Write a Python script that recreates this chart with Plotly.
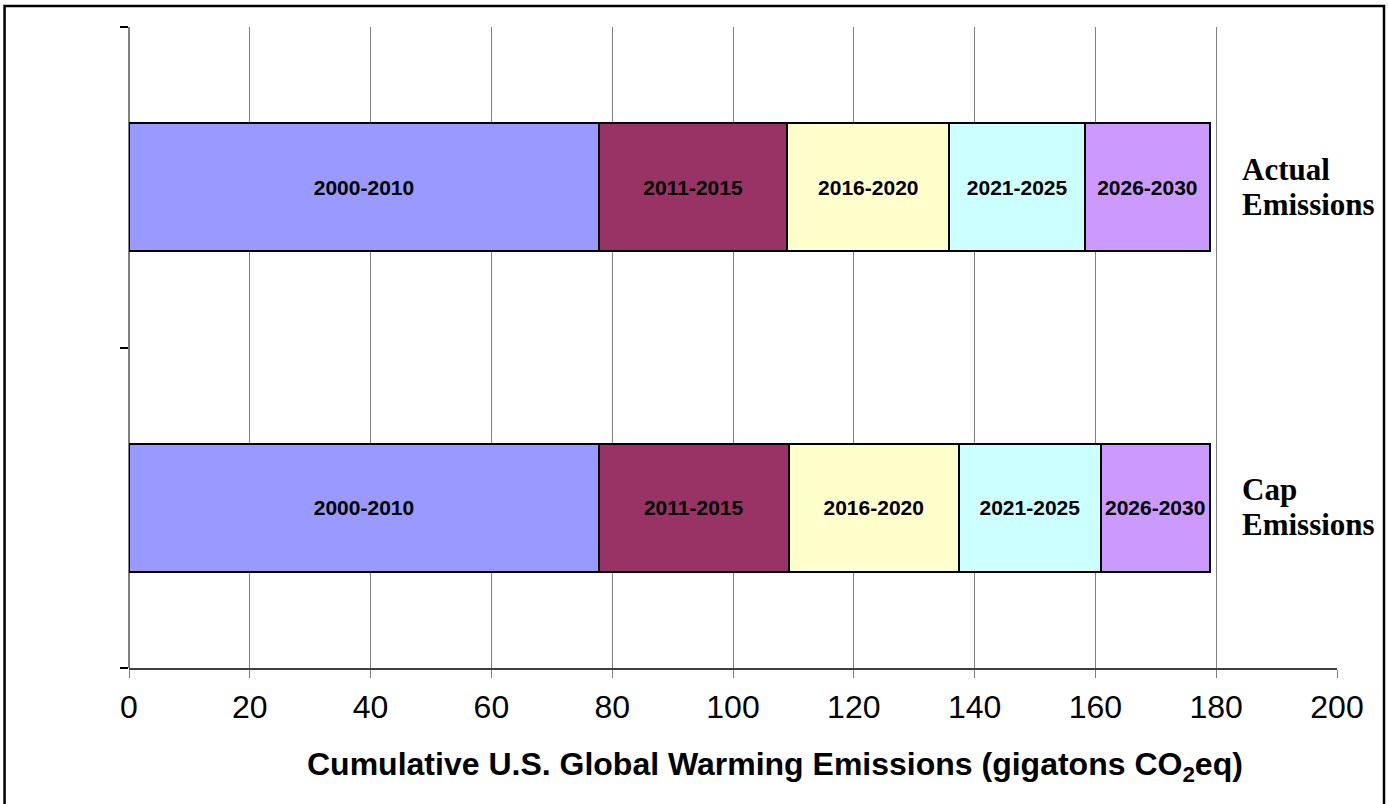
import plotly.graph_objects as go

# Emission groups (bottom to top) and time periods stacked along x
groups = ["Cap Emissions", "Actual Emissions"]
periods = ["2000-2010", "2011-2015", "2016-2020", "2021-2025", "2026-2030"]

# Gigatons CO2eq emitted in each period, per group (cap, actual)
cap_values = [77.8, 31.4, 28.2, 23.5, 18.0]
actual_values = [77.8, 31.2, 26.8, 22.5, 20.6]

period_colors = ["#9999FF", "#993366", "#FFFFCC", "#CCFFFF", "#CC99FF"]

x_ticks = list(range(0, 201, 20))
x_title = "Cumulative U.S. Global Warming Emissions (gigatons CO<sub>2</sub>eq)"

fig = go.Figure()
for i, period in enumerate(periods):
    fig.add_trace(go.Bar(
        y=groups,
        x=[cap_values[i], actual_values[i]],
        name=period,
        orientation="h",
        marker=dict(color=period_colors[i], line=dict(color="black", width=2)),
        text=[period, period],
        textposition="inside",
        insidetextanchor="middle",
        constraintext="none",
        textfont=dict(family="Liberation Sans", size=21, color="black", weight="bold"),
        hoverinfo="skip",
    ))

# Group labels on the right, one word per line
for g in groups:
    words = g.split(" ")
    shifts = [18, -17]
    for w, s in zip(words, shifts):
        fig.add_annotation(
            x=0.9197, xref="paper", y=g, yref="y",
            text=f"<b>{w}</b>", showarrow=False,
            xanchor="left", yanchor="middle", yshift=s,
            font=dict(family="Liberation Serif", size=31, color="black"),
        )

# Axis title
fig.add_annotation(
    x=0.5348, xref="paper", y=-0.153, yref="paper",
    text=f"<b>{x_title}</b>", showarrow=False,
    xanchor="center", yanchor="middle",
    font=dict(family="Liberation Sans", size=32, color="black"),
)

# Outer frame
fig.add_shape(
    type="rect", xref="paper", yref="paper",
    x0=-0.103, x1=1.0389, y0=-0.25, y1=1.0328,
    line=dict(color="black", width=2.5), fillcolor="rgba(0,0,0,0)",
    layer="above",
)

fig.update_layout(
    barmode="stack",
    bargap=0.6,
    width=1388, height=804,
    margin=dict(l=129, r=51, t=27, b=136),
    paper_bgcolor="white", plot_bgcolor="white",
    showlegend=False,
    font=dict(family="Liberation Sans", color="black"),
    xaxis=dict(
        range=[0, 200], tickvals=x_ticks,
        showgrid=True, gridcolor="#808080", gridwidth=1,
        zeroline=True, zerolinecolor="#808080", zerolinewidth=2,
        showline=True, linecolor="#404040", linewidth=1.5,
        ticks="outside", ticklen=8, tickcolor="#808080", tickwidth=1,
        ticklabelstandoff=2,
        tickfont=dict(family="Liberation Sans", size=32, color="black"),
    ),
    yaxis=dict(
        type="category", categoryorder="array", categoryarray=groups,
        range=[-0.5, 1.5],
        showgrid=False, zeroline=False, showline=False,
        showticklabels=False,
        ticks="outside", tickson="boundaries", ticklen=8,
        tickcolor="black", tickwidth=1.5,
    ),
)

fig.write_html("out.html")
